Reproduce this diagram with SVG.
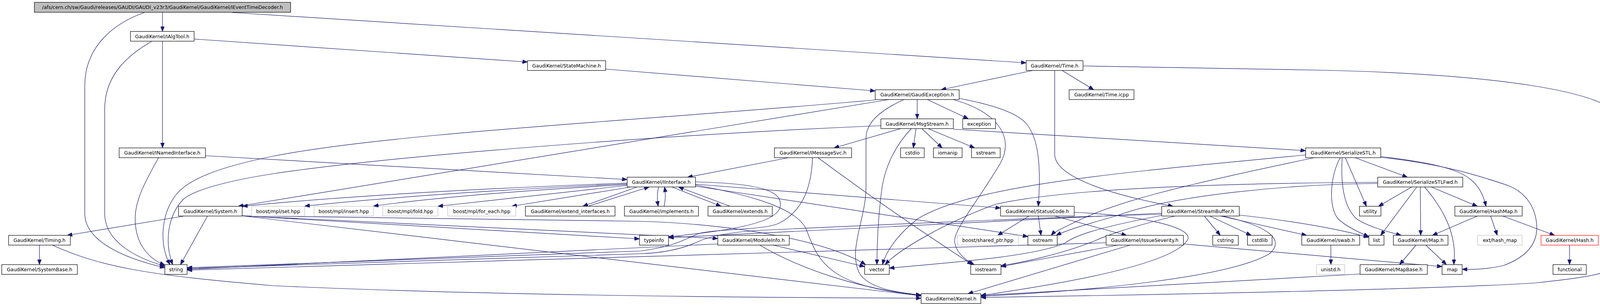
<svg xmlns="http://www.w3.org/2000/svg" width="4161" height="784" viewBox="0 0 4161 784">
<style>
.n rect{fill:#fff;stroke:#000;stroke-width:1.2}
.g rect{fill:#fff;stroke:#bfbfbf;stroke-width:1.2}
.r rect{fill:#fff;stroke:#ff0000;stroke-width:1.2}
.root rect{fill:#bfbfbf;stroke:#000;stroke-width:1.2}
text{font-family:"DejaVu Sans","Liberation Sans",sans-serif;font-size:12.4px;text-anchor:middle;fill:#000}
#edges path{fill:none;stroke:#191970;stroke-width:1.2;marker-end:url(#a)}
</style>
<defs>
<marker id="a" markerWidth="13" markerHeight="10" refX="13" refY="5" orient="auto" markerUnits="userSpaceOnUse"><path d="M0,0 L13,5 L0,10 z" fill="#191970" stroke="#191970" stroke-width="1"/></marker>
</defs>
<rect width="4161" height="784" fill="#fff"/>
<g id="edges">
<path d="M416,32 L416,80.5"/>
<path d="M370,32 C290,60 217,120 217,220 L217,547 C217,615 310,660 422,686"/>
<path d="M594,32 L2627,161"/>
<path d="M388,106 C330,140 268,190 268,280 L268,547 C268,618 345,660 422,682"/>
<path d="M416,106 L416,379"/>
<path d="M497,100 L1350.5,159"/>
<path d="M526,399 L1605.5,460"/>
<path d="M406,404 C375,460 346,510 346,560 C346,630 385,665 422,679"/>
<path d="M1550.5,177 L2240.5,233"/>
<path d="M2644,180.5 L2409,230"/>
<path d="M2719,180.5 L2800,230"/>
<path d="M2700,180.5 L2700,395 C2700,455 2850,500 3003,528.5"/>
<path d="M2772.5,169 L3392,180 C3800,190 4155,230 4155,320 L4155,650 C4155,700 4080,708 3930,725 C3700,740 3000,755 2511,762"/>
<path d="M2348,255 L2348,304.5"/>
<path d="M2374,255 L2479,304.5"/>
<path d="M2455.5,252 C2540,268 2608,290 2630,320 C2660,360 2665,430 2658,528.5"/>
<path d="M2440,255 C2550,285 2600,350 2560,420 C2500,520 2440,590 2444,620 C2448,650 2475,668 2494,678"/>
<path d="M2314,255 C2260,280 2217,310 2217,355 L2217,480 C2217,560 2170,640 2200,700 C2225,740 2300,750 2358,756"/>
<path d="M2276,255 L610,528.5"/>
<path d="M2240.5,256 C1700,305 1000,340 700,400 C560,428 480,460 450,500 C415,545 405,620 435,678"/>
<path d="M2306,329.5 L2135,379"/>
<path d="M2345,329.5 L2338,379"/>
<path d="M2360,329.5 L2412,379"/>
<path d="M2376,329.5 L2495,379"/>
<path d="M2333,329.5 C2295,370 2268,420 2258,480 C2250,540 2245,610 2245,678"/>
<path d="M2440.5,331 L3342.5,386"/>
<path d="M2255,322 C1700,345 1000,400 700,445 C590,462 500,485 470,510 C430,550 420,620 442,678"/>
<path d="M2019,404 L1760,454"/>
<path d="M2080,404 C2078,470 2060,540 1992,573 C1950,590 1850,585 1794,597 C1760,607 1740,630 1640,643 L479,686"/>
<path d="M2094,404 C2250,520 2400,620 2489,678"/>
<path d="M1605.5,469 C1300,480 900,500 621,528.5"/>
<path d="M1605.5,471 C1300,485 1000,505 780,528"/>
<path d="M1605.5,473 C1300,490 1100,508 956,528"/>
<path d="M1605.5,475 L1121,528.5"/>
<path d="M1615,479 L1310,528.5"/>
<path d="M1630,479.5 L1492,528.5"/>
<path d="M1505,528.5 L1662,479"/>
<path d="M1686,479 C1682,495 1682,510 1685,528.5"/>
<path d="M1700,528.5 C1704,512 1704,495 1701,479"/>
<path d="M1720,479 L1846,528.5"/>
<path d="M1869,528.5 L1737,479"/>
<path d="M1780.5,472 L2561.5,533"/>
<path d="M1780.5,477 L2631.5,606"/>
<path d="M1780.5,466 C1950,470 2005,490 1997,530 C1988,575 1850,592 1711.5,607"/>
<path d="M1780.5,474 C1950,505 2045,540 2065,590 C2095,670 2120,735 2358,756"/>
<path d="M469,554 L172,603"/>
<path d="M531,554 L462,678"/>
<path d="M620,553 L1640,567 C1900,575 2120,620 2216,678"/>
<path d="M620,553 L1837.5,611"/>
<path d="M620,553 L1637,612"/>
<path d="M620,553 L2358,758"/>
<path d="M101,628 L101,678"/>
<path d="M134,628 C260,685 380,705 700,732 C1200,755 1800,762 2358,764"/>
<path d="M1979,628 L2213.5,683"/>
<path d="M1945,628 C2050,690 2200,740 2358,757"/>
<path d="M1837.5,625 L479,690"/>
<path d="M2658,553.5 L2665,603"/>
<path d="M2700,553.5 L2884,603"/>
<path d="M2634,553.5 L2554,603"/>
<path d="M2750,544 C2900,550 3060,580 3040,615 C3000,680 2700,730 2511,757"/>
<path d="M3083,553.5 L3124,603"/>
<path d="M3097,553.5 L3203,603"/>
<path d="M3125,553.5 L3345,603"/>
<path d="M3172.5,551 C3300,565 3420,585 3504,608"/>
<path d="M3130,553.5 C3250,580 3290,615 3250,650 C3150,710 2800,745 2511,759"/>
<path d="M2974,546 L1711.5,609"/>
<path d="M2974,549 C2700,556 2200,578 1950,590 C1860,595 1810,608 1785,620 C1750,636 1700,648 1640,650 L479,688"/>
<path d="M2974,552 C2800,585 2750,605 2726,623 C2640,660 2400,675 2276.5,687"/>
<path d="M3008,553.5 C2880,585 2830,605 2800,618 C2720,650 2620,672 2562.5,681"/>
<path d="M3029.5,625 L3691.7,683"/>
<path d="M2831.5,622 L479,692"/>
<path d="M2862,628 L2562.5,683"/>
<path d="M2893,628 L2478,752.5"/>
<path d="M3407,628 L3407,678"/>
<path d="M3469,404 L3603,454"/>
<path d="M3444,404 L3498,528.5"/>
<path d="M3431,404 C3405,450 3400,530 3425,560 C3445,580 3480,596 3504,606"/>
<path d="M3436,404 C3432,470 3440,530 3472,560 C3500,580 3550,593 3587,603"/>
<path d="M3534.7,401 C3650,415 3730,430 3765,460 C3790,480 3800,510 3804,528.5"/>
<path d="M3534.7,403 C3700,420 3800,455 3860,475 C3900,490 3920,520 3928,545 C3945,600 3930,650 3850,680 C3800,692 3760,690 3743,690"/>
<path d="M3342.5,397 C2900,440 2500,470 2350,560 C2300,600 2270,640 2259,678"/>
<path d="M3365,404 C3000,480 2850,520 2750,570 C2720,585 2700,593 2691,603"/>
<path d="M3614,479 L3529,528.5"/>
<path d="M3627,479 L3534.5,603"/>
<path d="M3636,479 L3637,603"/>
<path d="M3647,479 C3690,530 3718,580 3723,640 C3724,660 3722,670 3722,678"/>
<path d="M3664,479 L3782,528.5"/>
<path d="M3527,470 C3300,472 3000,500 2858,553 C2780,575 2730,590 2704,603"/>
<path d="M3527,467 C3000,470 2700,490 2550,523 C2420,570 2300,640 2266,678"/>
<path d="M3782,553.5 L3667,603"/>
<path d="M3816,553.5 L3833,603"/>
<path d="M3847,553.5 L3980,603"/>
<path d="M3625,628 L3583,678"/>
<path d="M3650,628 L3703,678"/>
<path d="M3481.7,702 L2511,757"/>
<path d="M4018,628 L4018,678"/>
</g>
<g id="n_root" class="root"><rect x="88" y="6" width="656" height="25.5"/><text x="416" y="23">/afs/cern.ch/sw/Gaudi/releases/GAUDI/GAUDI_v23r3/GaudiKernel/GaudiKernel/IEventTimeDecoder.h</text></g>
<g id="n_IAlgTool" class="n"><rect x="334" y="80.5" width="163" height="25"/><text x="415.5" y="97.5">GaudiKernel/IAlgTool.h</text></g>
<g id="n_INamedInterface" class="n"><rect x="305" y="379" width="221" height="25"/><text x="415.5" y="396">GaudiKernel/INamedInterface.h</text></g>
<g id="n_StateMachine" class="n"><rect x="1350.5" y="155.5" width="200" height="25"/><text x="1450.5" y="172.5">GaudiKernel/StateMachine.h</text></g>
<g id="n_Time" class="n"><rect x="2627" y="155.5" width="145.5" height="25"/><text x="2699.75" y="172.5">GaudiKernel/Time.h</text></g>
<g id="n_TimeIcpp" class="n"><rect x="2737" y="230" width="166" height="25"/><text x="2820" y="247">GaudiKernel/Time.icpp</text></g>
<g id="n_GaudiException" class="n"><rect x="2240.5" y="230" width="215" height="25"/><text x="2348" y="247">GaudiKernel/GaudiException.h</text></g>
<g id="n_MsgStream" class="n"><rect x="2255" y="304.5" width="185.5" height="25"/><text x="2347.75" y="321.5">GaudiKernel/MsgStream.h</text></g>
<g id="n_exception" class="n"><rect x="2464.5" y="304.5" width="84" height="25"/><text x="2506.5" y="321.5">exception</text></g>
<g id="n_IMessageSvc" class="n"><rect x="1982.5" y="379" width="197.5" height="25"/><text x="2081.25" y="396">GaudiKernel/IMessageSvc.h</text></g>
<g id="n_cstdio" class="n"><rect x="2305.5" y="379" width="60.5" height="25"/><text x="2335.75" y="396">cstdio</text></g>
<g id="n_iomanip" class="n"><rect x="2389.5" y="379" width="73.5" height="25"/><text x="2426.25" y="396">iomanip</text></g>
<g id="n_sstream" class="n"><rect x="2487" y="379" width="73.5" height="25"/><text x="2523.75" y="396">sstream</text></g>
<g id="n_SerializeSTL" class="n"><rect x="3342.5" y="379" width="192.2" height="25"/><text x="3438.6" y="396">GaudiKernel/SerializeSTL.h</text></g>
<g id="n_IInterface" class="n"><rect x="1605.5" y="454" width="175" height="25"/><text x="1693" y="471">GaudiKernel/IInterface.h</text></g>
<g id="n_SerializeSTLFwd" class="n"><rect x="3527" y="454" width="217.6" height="25"/><text x="3635.8" y="471">GaudiKernel/SerializeSTLFwd.h</text></g>
<g id="n_System" class="n"><rect x="457" y="528.5" width="163" height="25"/><text x="538.5" y="545.5">GaudiKernel/System.h</text></g>
<g id="n_set" class="g"><rect x="644" y="528.5" width="136" height="25"/><text x="712" y="545.5">boost/mpl/set.hpp</text></g>
<g id="n_insert" class="g"><rect x="804" y="528.5" width="152" height="25"/><text x="880" y="545.5">boost/mpl/insert.hpp</text></g>
<g id="n_fold" class="g"><rect x="980" y="528.5" width="141" height="25"/><text x="1050.5" y="545.5">boost/mpl/fold.hpp</text></g>
<g id="n_for_each" class="g"><rect x="1146" y="528.5" width="174.5" height="25"/><text x="1233.25" y="545.5">boost/mpl/for_each.hpp</text></g>
<g id="n_extend_interfaces" class="n"><rect x="1345" y="528.5" width="229.5" height="25"/><text x="1459.75" y="545.5">GaudiKernel/extend_interfaces.h</text></g>
<g id="n_implements" class="n"><rect x="1598.5" y="528.5" width="189.5" height="25"/><text x="1693.25" y="545.5">GaudiKernel/implements.h</text></g>
<g id="n_extends" class="n"><rect x="1812.5" y="528.5" width="164.5" height="25"/><text x="1894.75" y="545.5">GaudiKernel/extends.h</text></g>
<g id="n_StatusCode" class="n"><rect x="2561.5" y="528.5" width="188.5" height="25"/><text x="2655.75" y="545.5">GaudiKernel/StatusCode.h</text></g>
<g id="n_StreamBuffer" class="n"><rect x="2974" y="528.5" width="198.5" height="25"/><text x="3073.25" y="545.5">GaudiKernel/StreamBuffer.h</text></g>
<g id="n_utility" class="n"><rect x="3480.3" y="528.5" width="54.9" height="25"/><text x="3507.75" y="545.5">utility</text></g>
<g id="n_HashMap" class="n"><rect x="3724.5" y="528.5" width="172.2" height="25"/><text x="3810.6" y="545.5">GaudiKernel/HashMap.h</text></g>
<g id="n_Timing" class="n"><rect x="22" y="603" width="158" height="25"/><text x="101" y="620">GaudiKernel/Timing.h</text></g>
<g id="n_typeinfo" class="n"><rect x="1637" y="603" width="74.5" height="25"/><text x="1674.25" y="620">typeinfo</text></g>
<g id="n_ModuleInfo" class="n"><rect x="1837.5" y="603" width="183" height="25"/><text x="1929" y="620">GaudiKernel/ModuleInfo.h</text></g>
<g id="n_shared_ptr" class="g"><rect x="2451" y="603" width="155.5" height="25"/><text x="2528.75" y="620">boost/shared_ptr.hpp</text></g>
<g id="n_ostream" class="n"><rect x="2631.5" y="603" width="75" height="25"/><text x="2669" y="620">ostream</text></g>
<g id="n_IssueSeverity" class="n"><rect x="2831.5" y="603" width="198" height="25"/><text x="2930.5" y="620">GaudiKernel/IssueSeverity.h</text></g>
<g id="n_cstring" class="n"><rect x="3104.5" y="603" width="65.5" height="25"/><text x="3137.25" y="620">cstring</text></g>
<g id="n_cstdlib" class="n"><rect x="3193.5" y="603" width="63" height="25"/><text x="3225" y="620">cstdlib</text></g>
<g id="n_swab" class="n"><rect x="3332.5" y="603" width="148.3" height="25"/><text x="3406.65" y="620">GaudiKernel/swab.h</text></g>
<g id="n_list" class="n"><rect x="3504.3" y="603" width="38.7" height="25"/><text x="3523.65" y="620">list</text></g>
<g id="n_Map" class="n"><rect x="3567" y="603" width="139.9" height="25"/><text x="3636.95" y="620">GaudiKernel/Map.h</text></g>
<g id="n_hash_map" class="g"><rect x="3782.9" y="603" width="113.8" height="25"/><text x="3839.8" y="620">ext/hash_map</text></g>
<g id="n_Hash" class="r"><rect x="3945" y="603" width="146.6" height="25"/><text x="4018.3" y="620">GaudiKernel/Hash.h</text></g>
<g id="n_SystemBase" class="n"><rect x="4.5" y="678" width="193.5" height="25"/><text x="101.25" y="695">GaudiKernel/SystemBase.h</text></g>
<g id="n_string" class="n"><rect x="422" y="678" width="57" height="25"/><text x="450.5" y="695">string</text></g>
<g id="n_vector" class="n"><rect x="2213.5" y="678" width="63" height="25"/><text x="2245" y="695">vector</text></g>
<g id="n_iostream" class="n"><rect x="2485" y="678" width="77.5" height="25"/><text x="2523.75" y="695">iostream</text></g>
<g id="n_unistd" class="g"><rect x="3370.5" y="678" width="72" height="25"/><text x="3406.5" y="695">unistd.h</text></g>
<g id="n_MapBase" class="n"><rect x="3481.7" y="678" width="172.2" height="25"/><text x="3567.8" y="695">GaudiKernel/MapBase.h</text></g>
<g id="n_map" class="n"><rect x="3691.7" y="678" width="51.4" height="25"/><text x="3717.4" y="695">map</text></g>
<g id="n_functional" class="n"><rect x="3975.6" y="678" width="85.3" height="25"/><text x="4018.25" y="695">functional</text></g>
<g id="n_Kernel" class="n"><rect x="2358" y="752.5" width="153" height="25"/><text x="2434.5" y="769.5">GaudiKernel/Kernel.h</text></g>
</svg>
